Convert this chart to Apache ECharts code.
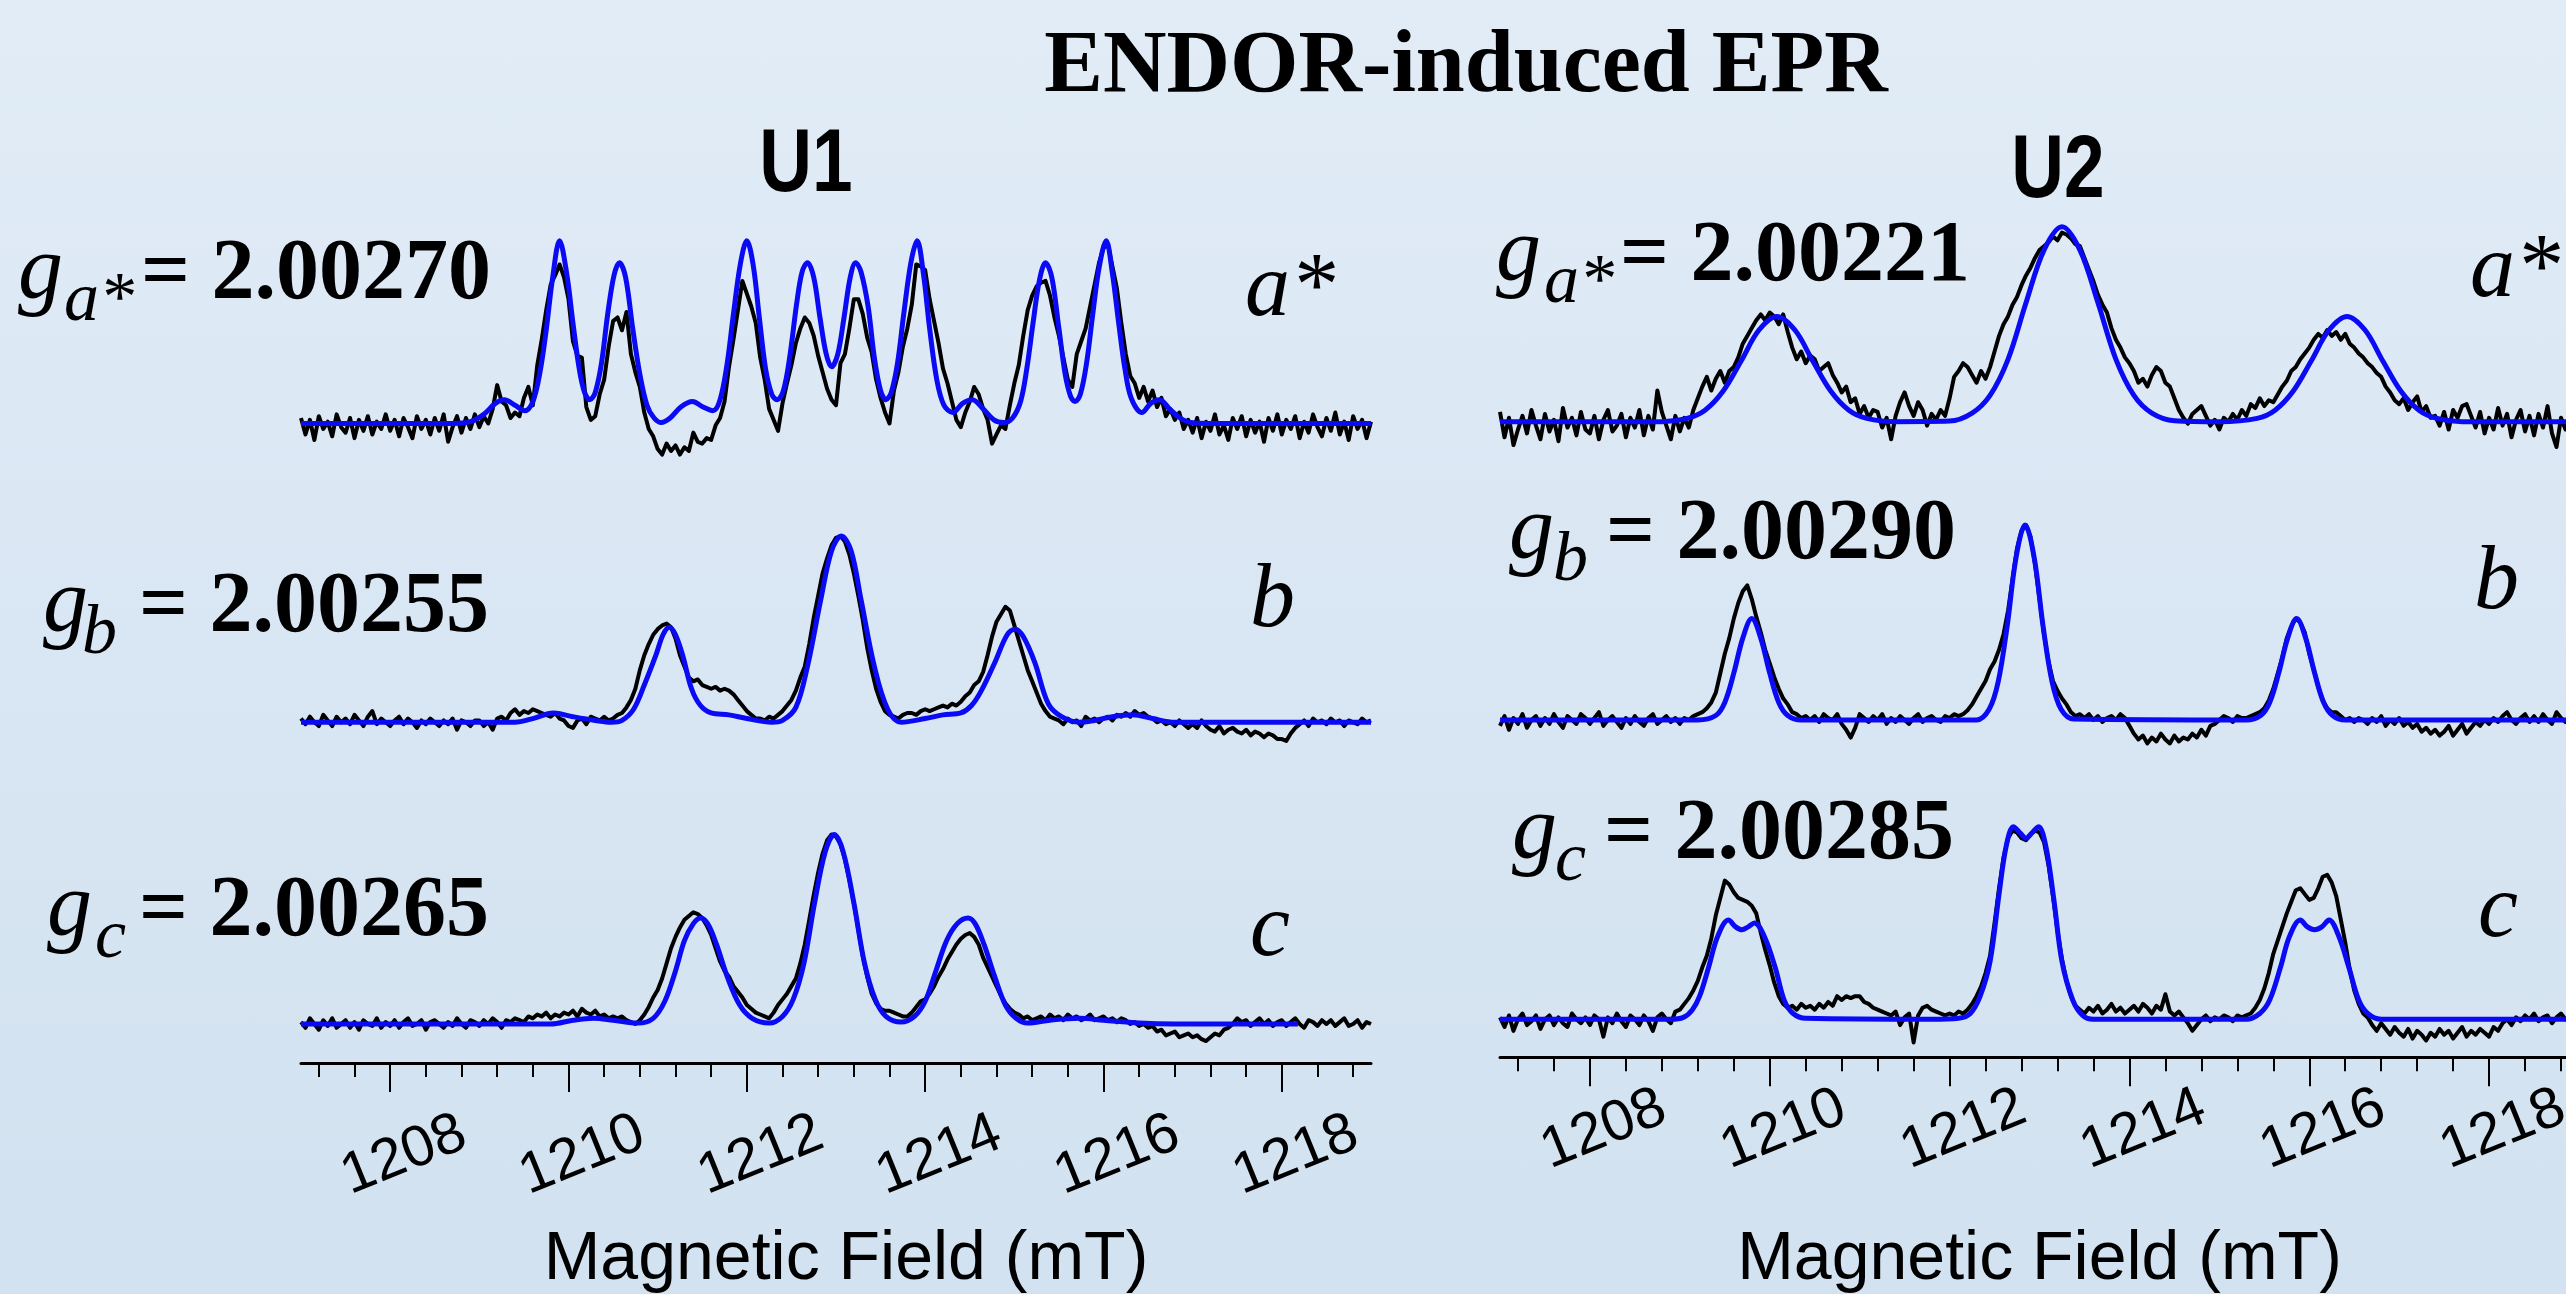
<!DOCTYPE html>
<html><head><meta charset="utf-8">
<script src="https://cdn.jsdelivr.net/npm/echarts@6/dist/echarts.min.js"></script>
<style>
html,body{margin:0;padding:0;}
body{background:linear-gradient(180deg,#e1ecf6 0%,#d9e6f3 50%,#d2e2f0 100%);}
#c{width:2566px;height:1294px;}
</style>
</head><body><div id="c"></div>
<script>
// ---------- axis ----------
const fieldStart = 1207, fieldStep = 0.05;   // sampling of the experimental traces (mT)
const xMin = 1207, xMax = 1219;
const majorTicks = [1208, 1210, 1212, 1214, 1216, 1218];
const minorTicks = [1207.2,1207.6,1208,1208.4,1208.8,1209.2,1209.6,1210,1210.4,1210.8,1211.2,1211.6,1212,1212.4,1212.8,1213.2,1213.6,1214,1214.4,1214.8,1215.2,1215.6,1216,1216.4,1216.8,1217.2,1217.6,1218,1218.4,1218.8];
const axisName = 'Magnetic Field (mT)';

// ---------- U1, a* ----------
const LA_exp = [
 3,-6,2,-9,4,-3,1,-7,5,-2,
 -5,3,-8,2,-4,4,-6,1,-3,5,
 -4,2,-7,3,-2,-8,4,-3,2,-6,
 3,-4,5,-10,-2,4,-5,3,-3,5,
 -2,4,0,8,21,12,10,3,6,4,
 14,20,10,32,46,62,76,81,87,80,
 68,45,37,36,9,2,4,16,24,42,
 56,58,51,61,38,28,20,6,-3,-7,
 -14,-17,-11,-15,-12,-17,-13,-15,-5,-10,
 -11,-8,-9,-1,3,12,31,46,62,78,
 71,64,55,36,24,8,2,-4,11,22,
 32,44,52,58,55,48,37,28,19,13,
 10,33,38,52,68,68,60,47,39,24,
 14,6,0,18,28,42,52,65,87,86,
 84,68,56,44,30,22,12,2,-2,6,
 12,20,16,8,2,-11,-6,-1,-3,10,
 22,32,48,62,70,75,77,78,70,58,
 48,36,24,20,38,45,52,64,76,88,
 96,98,86,74,55,38,26,22,14,20,
 12,18,9,14,4,8,2,6,-3,2,
 -5,3,-8,1,-4,5,-6,-1,-9,3,
 -3,4,-7,2,-5,1,-10,3,-4,5,
 -6,2,-3,4,-8,1,-5,5,-2,-7,
 3,-4,6,-6,1,-9,4,-3,2,-8,
 1];
const LA_fit = [[1207,0],[1208.7,0],[1208.9,1],[1209.05,5],[1209.18,11],[1209.28,13],[1209.4,10],[1209.51,7],[1209.6,12],[1209.68,28],[1209.75,51],[1209.82,79],[1209.9,100],[1209.98,82],[1210.05,55],[1210.12,30],[1210.18,17],[1210.24,13],[1210.3,17],[1210.37,33],[1210.44,60],[1210.51,81],[1210.57,88],[1210.64,80],[1210.72,52],[1210.8,27],[1210.88,10],[1210.96,3],[1211.04,0.5],[1211.14,3],[1211.26,9],[1211.39,12],[1211.51,9],[1211.62,7],[1211.7,13],[1211.78,33],[1211.85,60],[1211.93,88],[1212,100],[1212.07,87],[1212.14,58],[1212.21,30],[1212.28,16],[1212.34,13],[1212.41,18],[1212.48,36],[1212.56,66],[1212.62,83],[1212.68,88],[1212.75,80],[1212.82,58],[1212.89,38],[1212.95,31],[1213.02,38],[1213.09,58],[1213.16,80],[1213.22,88],[1213.28,83],[1213.36,64],[1213.43,36],[1213.5,18],[1213.56,13],[1213.62,17],[1213.69,33],[1213.76,60],[1213.84,88],[1213.91,100],[1213.98,82],[1214.05,52],[1214.13,24],[1214.21,10],[1214.31,6],[1214.42,11],[1214.53,13],[1214.65,8],[1214.77,2],[1214.88,0.5],[1214.98,3],[1215.07,12],[1215.14,30],[1215.21,55],[1215.28,78],[1215.35,88],[1215.42,80],[1215.5,52],[1215.57,27],[1215.63,15],[1215.68,12],[1215.74,16],[1215.81,33],[1215.88,60],[1215.95,85],[1216.03,100],[1216.1,82],[1216.17,55],[1216.24,30],[1216.31,14],[1216.43,6],[1216.53,11],[1216.63,13],[1216.74,8],[1216.86,3],[1216.98,0.5],[1217.2,0],[1219,0]];

// ---------- U1, b ----------
const LB_exp = [
 2,-1,3,0,-2,4,1,-2,3,0,
 2,-1,4,1,-2,3,6,-1,2,0,
 -2,1,3,-1,2,0,-3,1,-1,2,
 0,-2,1,-1,2,-4,1,0,-2,1,
 1,-2,0,-4,2,3,1,5,7,4,
 6,5,7,6,5,4,3,5,2,1,
 -2,-3,1,2,-1,3,2,1,3,1,
 2,4,5,8,12,18,28,36,42,47,
 50,52,53,51,45,36,30,24,22,23,
 20,19,18,19,17,18,17,15,12,9,
 6,4,2,2,1,3,2,4,6,9,
 12,17,24,30,42,56,68,80,88,95,
 99,100,97,90,80,68,55,40,28,18,
 11,6,4,3,2,4,5,5,4,6,
 7,6,7,8,9,8,10,9,11,14,
 16,20,22,27,36,46,54,58,62,60,
 52,44,36,28,22,16,10,6,3,2,
 1,-1,2,0,1,-2,3,1,2,0,
 2,3,1,4,3,5,3,6,4,5,
 3,2,0,1,-1,0,-2,1,-1,-3,
 -1,-3,1,-2,-4,-5,-2,-6,-4,-3,
 -5,-6,-4,-7,-5,-6,-8,-6,-7,-9,
 -9,-10,-6,-3,-1,1,-2,2,0,1,
 -1,2,0,1,-2,1,0,-1,2,0,
 1];
const LB_fit = [[1207,0],[1209.4,0],[1209.6,2],[1209.83,5],[1210.05,3],[1210.3,1],[1210.48,0],[1210.6,1],[1210.73,7],[1210.85,20],[1210.98,36],[1211.06,47],[1211.13,51],[1211.2,47],[1211.28,36],[1211.38,18],[1211.48,9],[1211.6,5],[1211.8,4],[1212,2],[1212.28,0],[1212.4,1],[1212.55,8],[1212.68,30],[1212.83,66],[1212.95,92],[1213.06,100],[1213.17,92],[1213.28,66],[1213.43,30],[1213.58,7],[1213.73,0],[1214,2],[1214.2,4],[1214.4,5],[1214.52,9],[1214.63,17],[1214.78,32],[1214.92,47],[1215.01,50],[1215.1,46],[1215.23,32],[1215.38,10],[1215.53,3],[1215.73,0],[1215.9,1],[1216.1,3],[1216.33,4],[1216.55,2],[1216.8,0],[1219,0]];

// ---------- U1, c ----------
const LC_exp = [
 1,-2,3,0,-3,2,-1,3,-2,0,
 2,-2,1,-3,2,0,-1,3,-2,1,
 -1,2,-2,1,3,-1,0,2,-3,1,
 2,0,-2,1,-1,3,0,-2,2,1,
 -1,2,0,3,1,-2,2,1,3,2,
 1,4,3,5,4,6,3,5,4,6,
 5,7,4,8,6,5,7,4,5,3,
 4,3,4,2,1,0,2,5,9,14,
 18,24,32,40,46,51,55,57,59,58,
 56,52,47,40,33,28,25,20,17,14,
 10,8,6,5,4,3,6,10,13,16,
 20,24,32,42,55,68,80,90,97,100,
 99,95,87,76,64,50,36,25,16,11,
 8,7,7,6,5,4,4,6,9,12,
 13,16,20,25,29,34,38,42,45,47,
 48,46,42,35,30,25,20,15,11,8,
 6,5,3,4,2,3,4,2,5,3,
 4,2,5,3,4,2,3,5,2,3,
 4,2,3,1,3,2,0,1,-1,0,
 -2,-1,-4,-3,-6,-5,-4,-7,-6,-5,
 -7,-6,-8,-9,-7,-5,-6,-3,-2,0,
 3,1,2,-1,1,3,0,2,-1,1,
 2,-1,1,3,0,-2,2,1,-1,2,
 0,2,-1,1,3,-1,0,2,-2,1,
 0];
const LC_fit = [[1207,0],[1209.8,0],[1210.05,2],[1210.28,3],[1210.5,2],[1210.78,0.5],[1210.95,3],[1211.08,12],[1211.2,28],[1211.3,44],[1211.4,53],[1211.48,56],[1211.56,53],[1211.66,42],[1211.78,25],[1211.92,10],[1212.06,3],[1212.25,0.5],[1212.4,4],[1212.52,13],[1212.64,32],[1212.76,64],[1212.88,91],[1212.98,100],[1213.08,91],[1213.2,64],[1213.32,32],[1213.44,13],[1213.56,4],[1213.73,1],[1213.88,4],[1214,12],[1214.12,28],[1214.24,44],[1214.36,53],[1214.48,56],[1214.56,53],[1214.66,42],[1214.78,25],[1214.9,10],[1215.02,3],[1215.15,0.5],[1215.4,2],[1215.73,3],[1216,2],[1216.4,0.5],[1216.8,0],[1218.18,0]];

// ---------- U2, a* ----------
const RA_exp = [
 5,-8,2,-12,-4,3,-6,6,-2,-9,
 4,-5,1,-10,7,-3,2,-7,5,-4,
 -6,3,-9,1,6,-5,-2,4,-8,2,
 -3,6,-7,3,-4,16,5,-2,-9,3,
 -5,2,-3,6,12,18,23,16,22,26,
 20,26,28,33,40,44,48,52,55,52,
 56,54,50,55,46,38,32,36,30,34,
 32,26,28,30,24,20,15,18,10,12,
 4,8,2,6,5,-3,2,-9,3,10,
 15,8,3,10,6,-2,4,1,6,3,
 12,23,26,30,28,24,20,26,22,28,
 36,44,50,54,60,64,70,75,79,84,
 88,90,92,95,93,97,96,94,91,90,
 84,78,72,65,60,56,48,42,38,33,
 30,26,20,22,18,24,28,26,20,18,
 12,6,2,-1,4,6,8,3,-2,1,
 -4,2,0,4,1,6,3,9,7,12,
 8,11,10,14,18,21,26,28,32,35,
 38,42,45,43,47,44,46,42,45,40,
 38,35,33,30,28,25,23,18,15,11,
 9,12,6,10,13,5,8,2,3,-2,
 5,-4,6,2,8,9,3,-3,5,-6,
 2,-4,7,-2,4,-8,1,6,-5,3,
 -7,4,-3,8,-6,-13,2,-4,5,-9,
 3];
const RA_fit = [[1207,0],[1208.8,0],[1209.08,1.7],[1209.28,5.9],[1209.48,15.6],[1209.68,31],[1209.88,47],[1210.08,54],[1210.28,47],[1210.48,31],[1210.68,15.6],[1210.88,5.9],[1211.08,1.7],[1211.4,0],[1212,0.3],[1212.25,4.4],[1212.45,13.5],[1212.65,32],[1212.85,61],[1213.05,88],[1213.25,100],[1213.45,88],[1213.65,61],[1213.85,32],[1214.05,13.5],[1214.25,4.4],[1214.5,0.5],[1215,0],[1215.42,1.7],[1215.62,5.9],[1215.82,15.6],[1216.02,31],[1216.22,47],[1216.42,54],[1216.62,47],[1216.82,31],[1217.02,15.6],[1217.22,5.9],[1217.42,1.7],[1217.7,0],[1219,0]];

// ---------- U2, b ----------
const RB_exp = [
 -3,2,-5,1,-2,3,-4,0,2,-3,
 1,-2,3,-1,-4,2,0,-2,3,1,
 -2,1,4,-3,0,2,-1,-4,1,-2,
 2,-1,-3,1,3,-2,0,2,-1,1,
 -2,1,0,2,3,4,6,9,14,24,
 34,42,52,60,66,69,62,53,45,36,
 29,22,16,11,8,4,3,1,2,0,
 2,-1,3,1,0,3,-2,-5,-9,-4,
 3,1,-1,2,0,3,-2,1,-1,2,
 0,-2,1,3,-1,1,2,0,-1,2,
 1,3,2,3,5,8,12,16,20,26,
 30,36,44,56,72,88,97,100,94,80,
 62,44,30,20,15,11,8,4,2,3,
 1,3,0,2,-1,1,2,0,3,1,
 -3,-7,-10,-8,-12,-9,-11,-7,-10,-12,
 -8,-11,-9,-10,-7,-9,-5,-8,-3,-2,
 0,2,1,-1,2,1,1,2,3,4,
 6,10,16,24,32,42,48,52,50,45,
 34,26,17,10,6,4,4,2,0,1,
 -1,1,0,-2,1,-1,2,-3,0,-2,
 1,-3,-1,-4,-2,-6,-4,-7,-5,-8,
 -6,-3,-8,-5,-2,-7,-4,-1,-3,0,
 -2,1,-1,2,4,0,-2,1,3,-1,
 2,-1,3,0,-2,4,1,-1,2,0,
 1];
const RB_fit = [[1207,0],[1209.2,0],[1209.4,2.3],[1209.5,9],[1209.6,24],[1209.7,42],[1209.8,52],[1209.9,42],[1210,24],[1210.1,9],[1210.2,2.3],[1210.35,0],[1212.3,0],[1212.44,5.5],[1212.54,19.5],[1212.64,48],[1212.74,83.5],[1212.84,100],[1212.94,83.5],[1213.04,48],[1213.14,19.5],[1213.24,5.5],[1213.38,0.5],[1215.3,0],[1215.46,2.3],[1215.56,9],[1215.66,24],[1215.76,42],[1215.86,52],[1215.96,42],[1216.06,24],[1216.16,9],[1216.26,2.3],[1216.4,0],[1219,0]];

// ---------- U2, c ----------
const RC_exp = [
 1,-4,2,-6,0,3,-3,-1,2,-5,
 0,2,-3,1,-2,-4,3,0,-2,1,
 -3,2,0,-9,1,-2,3,-1,-4,2,
 0,-3,2,-1,-6,1,3,0,-2,4,
 5,8,11,15,20,27,33,42,54,63,
 72,70,66,63,62,61,59,55,45,36,
 28,19,12,8,6,7,5,8,6,7,
 5,8,6,9,7,12,10,12,11,12,
 12,9,8,6,5,4,3,2,4,-3,
 1,3,-12,2,6,7,5,4,3,2,
 3,2,4,3,5,8,12,17,24,33,
 50,68,84,94,98,97,94,93,96,98,
 97,92,80,64,46,31,20,12,7,5,
 3,6,4,7,3,5,8,4,6,3,
 5,7,4,8,6,3,7,5,13,4,
 2,4,1,-2,-6,-3,0,2,-1,1,
 0,2,1,-1,2,1,2,3,6,10,
 16,24,34,41,48,55,61,67,68,65,
 62,63,68,74,75,71,64,52,40,26,
 15,8,3,1,-3,-6,-2,-5,-8,-4,
 -7,-9,-5,-10,-6,-8,-11,-7,-9,-5,
 -8,-6,-10,-7,-4,-9,-6,-8,-5,-7,
 -9,-4,-6,-2,0,-3,1,-1,2,0,
 3,-1,1,2,-2,1,3,0,-1,2,
 1];
const RC_fit = [[1207,0],[1208.9,0],[1209.04,1],[1209.14,5],[1209.22,12],[1209.32,27],[1209.42,43],[1209.54,51.5],[1209.62,48],[1209.69,46.5],[1209.76,48],[1209.83,50],[1209.94,43],[1210.06,27],[1210.16,10],[1210.26,3],[1210.4,0.5],[1211.8,0],[1212.1,0.5],[1212.23,3],[1212.34,12],[1212.45,30],[1212.55,65],[1212.63,90],[1212.71,100],[1212.78,97],[1212.85,94],[1212.92,97],[1212.99,100],[1213.07,90],[1213.16,62],[1213.25,30],[1213.37,10],[1213.48,2],[1213.6,0],[1215.3,0],[1215.45,3],[1215.56,10],[1215.68,27],[1215.78,43],[1215.9,51.5],[1215.98,48],[1216.06,46.5],[1216.14,48],[1216.22,51.5],[1216.33,43],[1216.44,27],[1216.55,10],[1216.65,3],[1216.8,0],[1219,0]];

// ---------- text ----------
const titleText = 'ENDOR-induced EPR';
const colTitles = ['U1', 'U2'];
const gValues = ['= 2.00270', '= 2.00255', '= 2.00265', '= 2.00221', '= 2.00290', '= 2.00285'];
const gSubs = ['a*', 'b', 'c', 'a*', 'b', 'c'];
const dirLabels = ['a*', 'b', 'c', 'a*', 'b', 'c'];

// ---------- layout ----------
const SERIF = '"Liberation Serif","Times New Roman",serif';
const SANS = '"Liberation Sans",Arial,sans-serif';
const panels = [
  {exp: LA_exp, fit: LA_fit, left: 301, width: 1070, base: 423.5, amp: 182.8},
  {exp: LB_exp, fit: LB_fit, left: 301, width: 1070, base: 722.3, amp: 186.3},
  {exp: LC_exp, fit: LC_fit, left: 301, width: 1070, base: 1024, amp: 189.4, axisY: 1063, labelMargin: 98, nameGap: 197, namePad: [0,0,0,20]},
  {exp: RA_exp, fit: RA_fit, left: 1500, width: 1079, base: 421.7, amp: 195},
  {exp: RB_exp, fit: RB_fit, left: 1500, width: 1079, base: 720, amp: 195},
  {exp: RC_exp, fit: RC_fit, left: 1500, width: 1079, base: 1019.3, amp: 192.6, axisY: 1057.3, labelMargin: 78, nameGap: 203, namePad: [0,0,0,0]}
];

function expPairs(vals) {
  return vals.map((v, i) => [Math.round((fieldStart + i * fieldStep) * 100) / 100, v]);
}

const grids = [], xAxes = [], yAxes = [], series = [];
panels.forEach((p, gi) => {
  const s = p.amp / 100, yMax = 110;
  const yMin = p.axisY ? -(p.axisY - p.base) / s : -30;
  grids.push({left: p.left, top: p.base - yMax * s, width: p.width, height: (yMax - yMin) * s, outerBoundsMode: 'none', containLabel: false});
  yAxes.push({type: 'value', gridIndex: gi, min: yMin, max: yMax, show: false});
  const xi = xAxes.length;
  if (p.axisY) {
    xAxes.push({
      type: 'value', gridIndex: gi, position: 'bottom', min: xMin, max: xMax,
      axisLine: {show: true, onZero: false, lineStyle: {color: '#000', width: 3}},
      axisTick: {show: true, customValues: majorTicks, length: 29, lineStyle: {color: '#000', width: 2}},
      splitLine: {show: false},
      axisLabel: {show: true, customValues: majorTicks, rotate: 22, align: 'center', verticalAlign: 'middle',
        formatter: v => String(v),
        margin: p.labelMargin, padding: [0, 0, 0, 30], fontSize: 58, fontFamily: SANS, color: '#000'},
      name: axisName, nameLocation: 'middle', nameGap: p.nameGap,
      nameTextStyle: {fontSize: 68, fontFamily: SANS, color: '#000', verticalAlign: 'middle', padding: p.namePad}
    });
    xAxes.push({
      type: 'value', gridIndex: gi, position: 'bottom', min: xMin, max: xMax,
      axisLine: {show: false, onZero: false},
      axisTick: {show: true, customValues: minorTicks, length: 14, lineStyle: {color: '#000', width: 2}},
      splitLine: {show: false}, axisLabel: {show: false}
    });
  } else {
    xAxes.push({type: 'value', gridIndex: gi, min: xMin, max: xMax, show: false, splitLine: {show: false}});
  }
  series.push({
    type: 'line', xAxisIndex: xi, yAxisIndex: gi, data: expPairs(p.exp),
    showSymbol: false, symbol: 'none', silent: true, z: 2,
    lineStyle: {color: '#000', width: 4, join: 'round'}
  });
  series.push({
    type: 'line', xAxisIndex: xi, yAxisIndex: gi, data: p.fit,
    showSymbol: false, symbol: 'none', silent: true, smooth: 0.35, z: 3,
    lineStyle: {color: '#0a0af5', width: 5}
  });
});

function txt(text, x, baseline, style, size, family, align, scaleX) {
  const k = family === SANS ? 0.3465 : 0.3375;
  return {
    type: 'text', x: x, y: baseline - k * size, scaleX: scaleX || 1, silent: true, z: 20,
    style: {
      text: text, font: style + ' ' + size + 'px ' + family, fill: '#000',
      textAlign: align || 'left', textVerticalAlign: 'middle', align: align || 'left', verticalAlign: 'middle'
    }
  };
}

const gPos = [
  {gx: 18, sx: 64, ex: 141, b: 305, lx: 1245, lb: 322},
  {gx: 43, sx: 82, ex: 139, b: 638, lx: 1250, lb: 633},
  {gx: 47, sx: 95, ex: 139, b: 942, lx: 1250, lb: 962},
  {gx: 1496, sx: 1544, ex: 1620, b: 287, lx: 2470, lb: 303},
  {gx: 1509, sx: 1553, ex: 1606, b: 565, lx: 2474, lb: 615},
  {gx: 1512, sx: 1555, ex: 1604, b: 865, lx: 2478, lb: 943}
];
const graphics = [];
graphics.push(txt(titleText, 1466, 98, 'bold', 88, SERIF, 'center'));
graphics.push(txt(colTitles[0], 806, 197, 'bold', 89, SANS, 'center', 0.82));
graphics.push(txt(colTitles[1], 2058, 203, 'bold', 89, SANS, 'center', 0.82));
gPos.forEach((q, i) => {
  graphics.push(txt('g', q.gx, q.b, 'italic', 90, SERIF));
  graphics.push(txt(gSubs[i], q.sx, q.b + 20, 'italic', 70, SERIF));
  graphics.push(txt(gValues[i], q.ex, q.b, 'bold', 86, SERIF));
  graphics.push(txt(dirLabels[i], q.lx, q.lb, 'italic', 90, SERIF));
});

const chart = echarts.init(document.getElementById('c'), null, {renderer: 'canvas'});
chart.setOption({
  animation: false,
  backgroundColor: 'transparent',
  grid: grids, xAxis: xAxes, yAxis: yAxes, series: series,
  graphic: graphics
});
</script></body></html>
